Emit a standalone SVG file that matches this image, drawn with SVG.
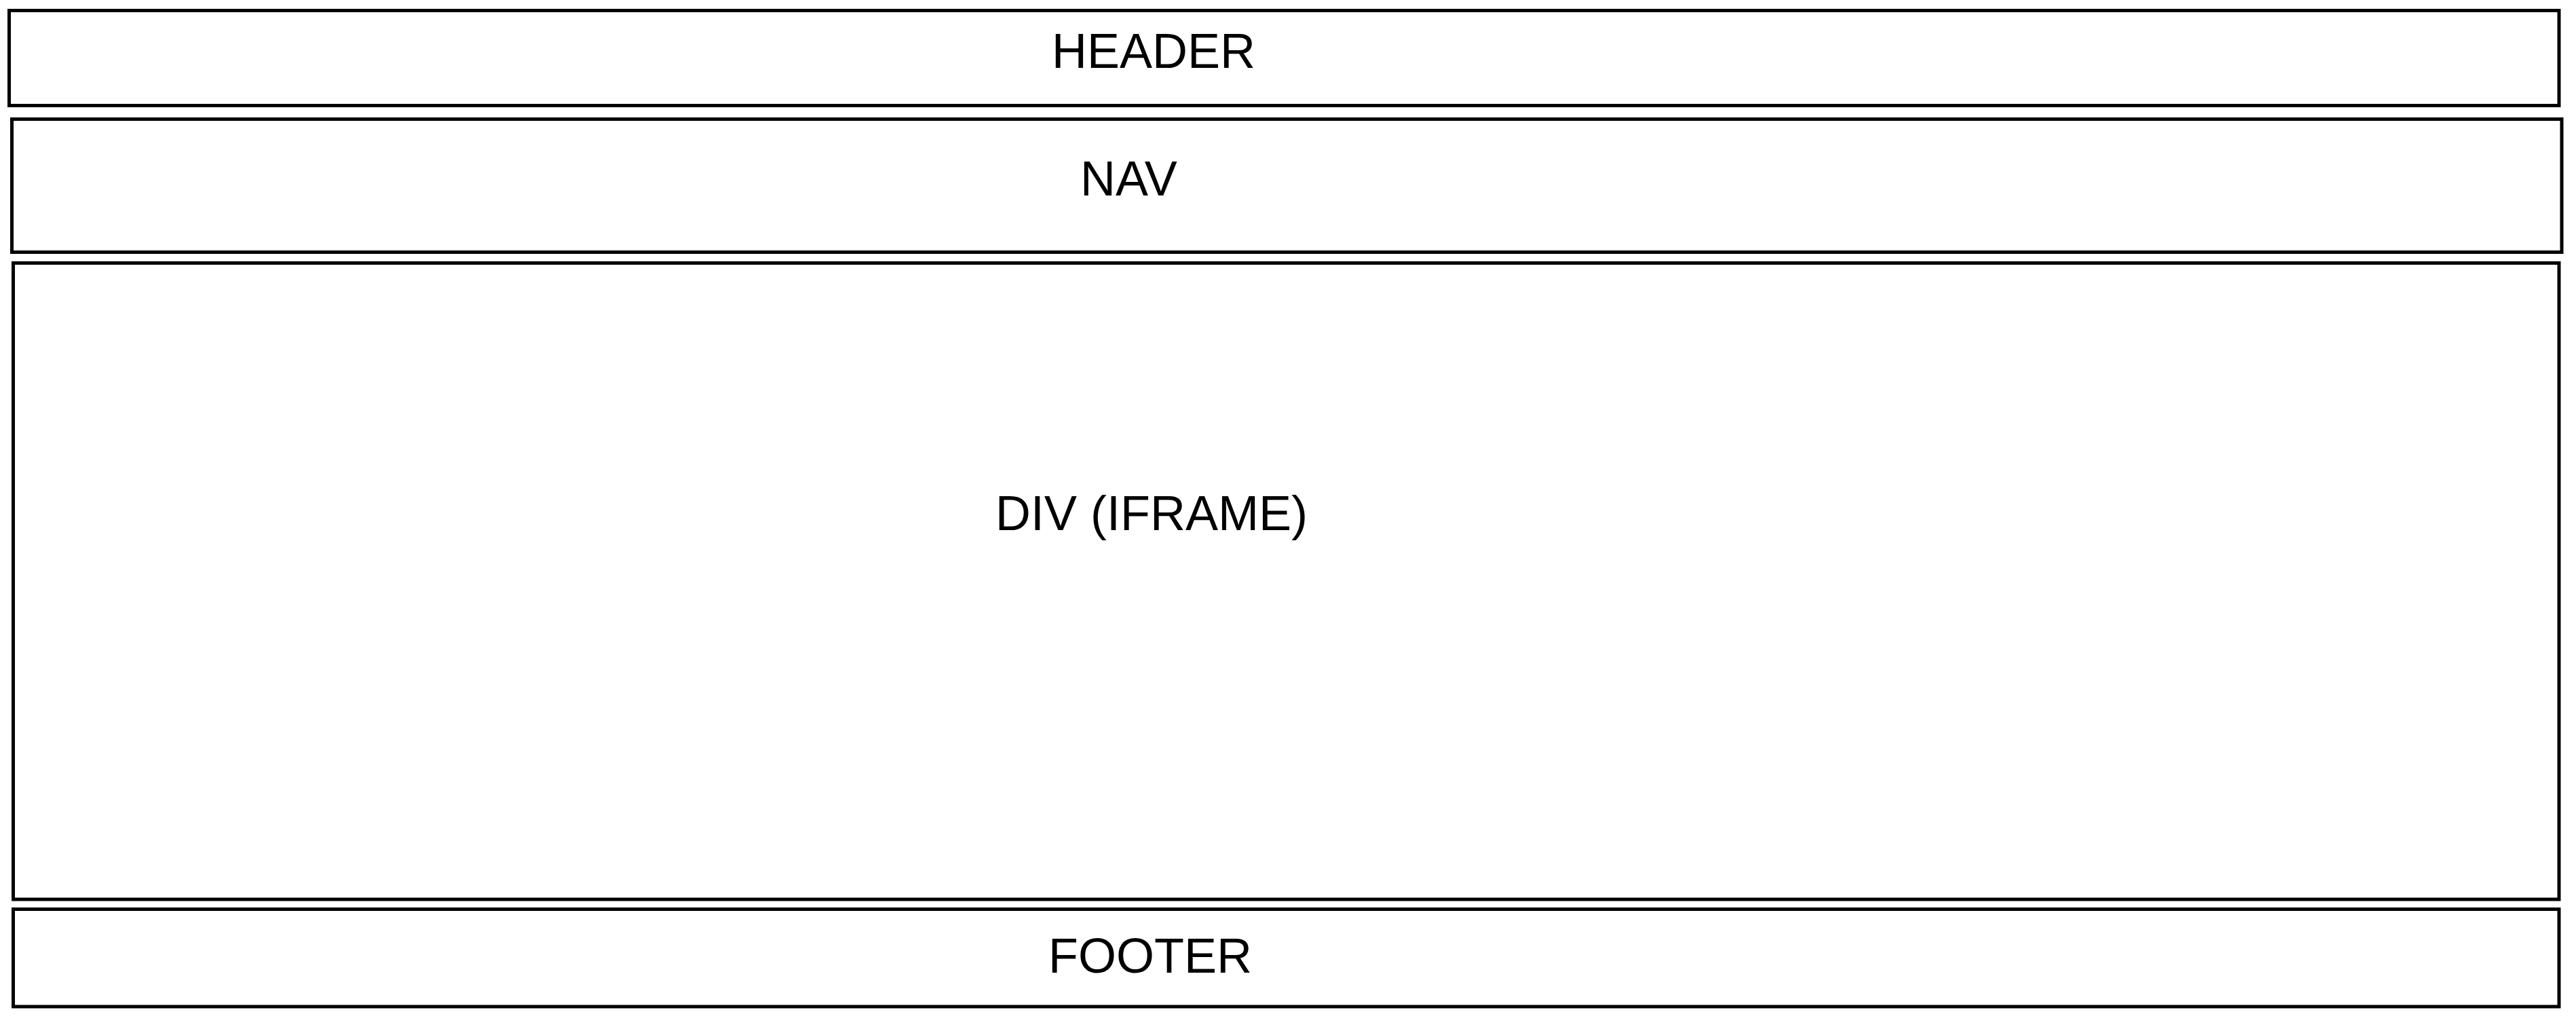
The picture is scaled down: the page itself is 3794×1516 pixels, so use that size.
<svg xmlns="http://www.w3.org/2000/svg" width="3794" height="1516" viewBox="0 0 3794 1516">
  <style>
    .box { fill: #ffffff; stroke: #000000; stroke-width: 5; }
    .label { font-family: "Liberation Sans", Arial, sans-serif; font-size: 72px; fill: #000000; }
  </style>
  <rect x="0" y="0" width="3794" height="1516" fill="#ffffff"/>
  <g id="header">
    <rect class="box" x="13.5" y="15.5" width="3755.5" height="140"/>
    <text class="label" x="1549" y="100">HEADER</text>
  </g>
  <g id="nav">
    <rect class="box" x="17.5" y="175.5" width="3755.5" height="196"/>
    <text class="label" x="1591" y="288">NAV</text>
  </g>
  <g id="content">
    <rect class="box" x="19.5" y="387.5" width="3749.5" height="937.5"/>
    <text class="label" x="1466" y="781">DIV (IFRAME)</text>
  </g>
  <g id="footer">
    <rect class="box" x="19.5" y="1339.5" width="3749.5" height="143.5"/>
    <text class="label" x="1544" y="1433">FOOTER</text>
  </g>
  <g id="connectors"></g>
</svg>
